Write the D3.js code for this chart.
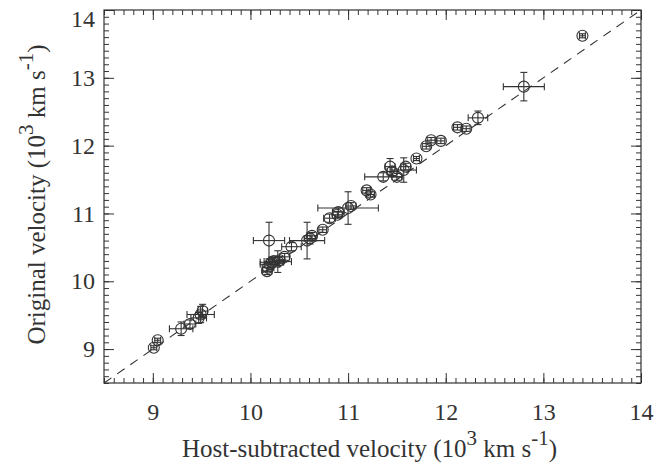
<!DOCTYPE html>
<html>
<head>
<meta charset="utf-8">
<script src="https://cdn.jsdelivr.net/npm/d3@7"></script>
<style>
  body { margin: 0; background: #fff; }
  text { font-family: "Liberation Serif", "DejaVu Serif", serif; fill: #333; }
</style>
</head>
<body>
<svg id="chart"></svg>
<script>
// velocities in 10^3 km/s
var hostVel = [9.01, 9.05, 9.29, 9.38, 9.47, 9.49, 9.51,
  10.17, 10.18, 10.20, 10.22, 10.19, 10.24, 10.28, 10.30, 10.35, 10.42,
  10.58, 10.61, 10.63, 10.74, 10.81, 10.89, 10.90, 11.00, 11.03,
  11.19, 11.23, 11.36, 11.43, 11.45, 11.50, 11.57, 11.59, 11.70,
  11.80, 11.85, 11.95, 12.12, 12.21, 12.33, 12.80, 13.40];
var hostErr = [0.03, 0.03, 0.12, 0.06, 0.08, 0.14, 0.05,
  0.05, 0.06, 0.10, 0.12, 0.16, 0.05, 0.14, 0.05, 0.05, 0.10,
  0.18, 0.06, 0.05, 0.04, 0.06, 0.05, 0.06, 0.31, 0.05,
  0.04, 0.04, 0.19, 0.05, 0.05, 0.05, 0.13, 0.05, 0.03,
  0.04, 0.04, 0.04, 0.04, 0.04, 0.10, 0.21, 0.03];
var origVel = [9.02, 9.13, 9.30, 9.37, 9.46, 9.51, 9.56,
  10.15, 10.20, 10.25, 10.28, 10.60, 10.30, 10.29, 10.31, 10.36, 10.51,
  10.60, 10.63, 10.67, 10.76, 10.93, 10.98, 11.02, 11.08, 11.11,
  11.34, 11.28, 11.54, 11.69, 11.62, 11.54, 11.64, 11.69, 11.81,
  11.99, 12.08, 12.07, 12.27, 12.25, 12.41, 12.87, 13.62];
var origErr = [0.03, 0.03, 0.10, 0.06, 0.08, 0.12, 0.10,
  0.05, 0.06, 0.08, 0.08, 0.27, 0.05, 0.16, 0.05, 0.05, 0.06,
  0.27, 0.08, 0.05, 0.04, 0.06, 0.05, 0.06, 0.24, 0.05,
  0.04, 0.04, 0.06, 0.12, 0.06, 0.05, 0.18, 0.05, 0.03,
  0.04, 0.04, 0.04, 0.04, 0.04, 0.10, 0.21, 0.03];

var axisRange = [8.5, 14];
var majorTicks = [9, 10, 11, 12, 13, 14];

var width = 669, height = 466;
var margin = {top: 10, right: 28, bottom: 83, left: 104};
var ink = "#333";
var serif = "'Liberation Serif', 'DejaVu Serif', serif";

var svg = d3.select("#chart").attr("width", width).attr("height", height);

var x = d3.scaleLinear().domain(axisRange).range([margin.left, width - margin.right]);
var y = d3.scaleLinear().domain(axisRange).range([height - margin.bottom, margin.top]);

var minorTicks = d3.range(85, 141).map(function(d){ return d / 10; });

// ticks on all four sides, pointing inward
function drawTicks(axisFn, translate, values, size) {
  var g = svg.append("g")
    .attr("transform", translate)
    .call(axisFn.tickValues(values).tickSize(size).tickFormat(""));
  g.select(".domain").remove();
  g.selectAll("line").attr("stroke", ink);
  return g;
}
var bottomY = y(axisRange[0]), topY = y(axisRange[1]);
var leftX = x(axisRange[0]), rightX = x(axisRange[1]);

drawTicks(d3.axisBottom(x), "translate(0," + bottomY + ")", minorTicks, -5);
drawTicks(d3.axisBottom(x), "translate(0," + bottomY + ")", majorTicks, -10);
drawTicks(d3.axisTop(x), "translate(0," + topY + ")", minorTicks, -5);
drawTicks(d3.axisTop(x), "translate(0," + topY + ")", majorTicks, -10);
drawTicks(d3.axisLeft(y), "translate(" + leftX + ",0)", minorTicks, -5);
drawTicks(d3.axisLeft(y), "translate(" + leftX + ",0)", majorTicks, -10);
drawTicks(d3.axisRight(y), "translate(" + rightX + ",0)", minorTicks, -5);
drawTicks(d3.axisRight(y), "translate(" + rightX + ",0)", majorTicks, -10);

// tick labels
var xLab = svg.append("g")
  .attr("transform", "translate(0," + bottomY + ")")
  .call(d3.axisBottom(x).tickValues(majorTicks).tickSize(0).tickPadding(20).tickFormat(d3.format("d")));
xLab.select(".domain").remove();
xLab.selectAll("text")
  .style("font-family", serif).style("font-size", "24px").style("fill", ink);

var yLab = svg.append("g")
  .attr("transform", "translate(" + leftX + ",0)")
  .call(d3.axisLeft(y).tickValues(majorTicks).tickSize(0).tickPadding(9).tickFormat(d3.format("d")));
yLab.select(".domain").remove();
yLab.selectAll("text")
  .style("font-family", serif).style("font-size", "24px").style("fill", ink)
  .filter(function(d){ return d === axisRange[1]; }).attr("dy", "0.7em");

// frame
svg.append("rect")
  .attr("x", leftX).attr("y", topY)
  .attr("width", rightX - leftX).attr("height", bottomY - topY)
  .attr("fill", "none").attr("stroke", ink).attr("stroke-width", 1.2);

// one-to-one line
var line = d3.line().x(function(d){ return x(d); }).y(function(d){ return y(d); });
svg.append("path")
  .datum(axisRange)
  .attr("d", line)
  .attr("fill", "none").attr("stroke", ink).attr("stroke-width", 1.1)
  .attr("stroke-dasharray", "9,7");

// points with error bars
var pts = hostVel.map(function(v, i){
  return {x: v, y: origVel[i], ex: hostErr[i], ey: origErr[i]};
});
var cap = 3.5;
var pg = svg.append("g").attr("stroke", ink).attr("fill", "none").attr("stroke-width", 1.1);
var pt = pg.selectAll("g.pt").data(pts).enter().append("g").attr("class", "pt");
pt.append("line")
  .attr("x1", function(d){ return x(d.x - d.ex); }).attr("x2", function(d){ return x(d.x + d.ex); })
  .attr("y1", function(d){ return y(d.y); }).attr("y2", function(d){ return y(d.y); });
pt.append("line")
  .attr("x1", function(d){ return x(d.x); }).attr("x2", function(d){ return x(d.x); })
  .attr("y1", function(d){ return y(d.y - d.ey); }).attr("y2", function(d){ return y(d.y + d.ey); });
[-1, 1].forEach(function(s){
  pt.append("line")
    .attr("x1", function(d){ return x(d.x + s * d.ex); }).attr("x2", function(d){ return x(d.x + s * d.ex); })
    .attr("y1", function(d){ return y(d.y) - cap; }).attr("y2", function(d){ return y(d.y) + cap; });
  pt.append("line")
    .attr("x1", function(d){ return x(d.x) - cap; }).attr("x2", function(d){ return x(d.x) + cap; })
    .attr("y1", function(d){ return y(d.y + s * d.ey); }).attr("y2", function(d){ return y(d.y + s * d.ey); });
});
pt.append("circle")
  .attr("cx", function(d){ return x(d.x); }).attr("cy", function(d){ return y(d.y); })
  .attr("r", 5.5);

// axis titles with raised exponents
function addTitle(sel, lead) {
  sel.append("tspan").text(lead + " (10");
  sel.append("tspan").attr("dy", -12).style("font-size", "21px").text("3");
  sel.append("tspan").attr("dy", 12).text(" km s");
  sel.append("tspan").attr("dy", -12).style("font-size", "21px").text("-1");
  sel.append("tspan").attr("dy", 12).text(")");
}
var xt = svg.append("text")
  .attr("x", (leftX + rightX) / 2 - 3).attr("y", 457)
  .attr("text-anchor", "middle").style("font-size", "25px");
addTitle(xt, "Host-subtracted velocity");

var yt = svg.append("text")
  .attr("transform", "translate(45," + ((topY + bottomY) / 2 - 2) + ") rotate(-90)")
  .attr("text-anchor", "middle").style("font-size", "25px");
addTitle(yt, "Original velocity");
</script>
</body>
</html>
